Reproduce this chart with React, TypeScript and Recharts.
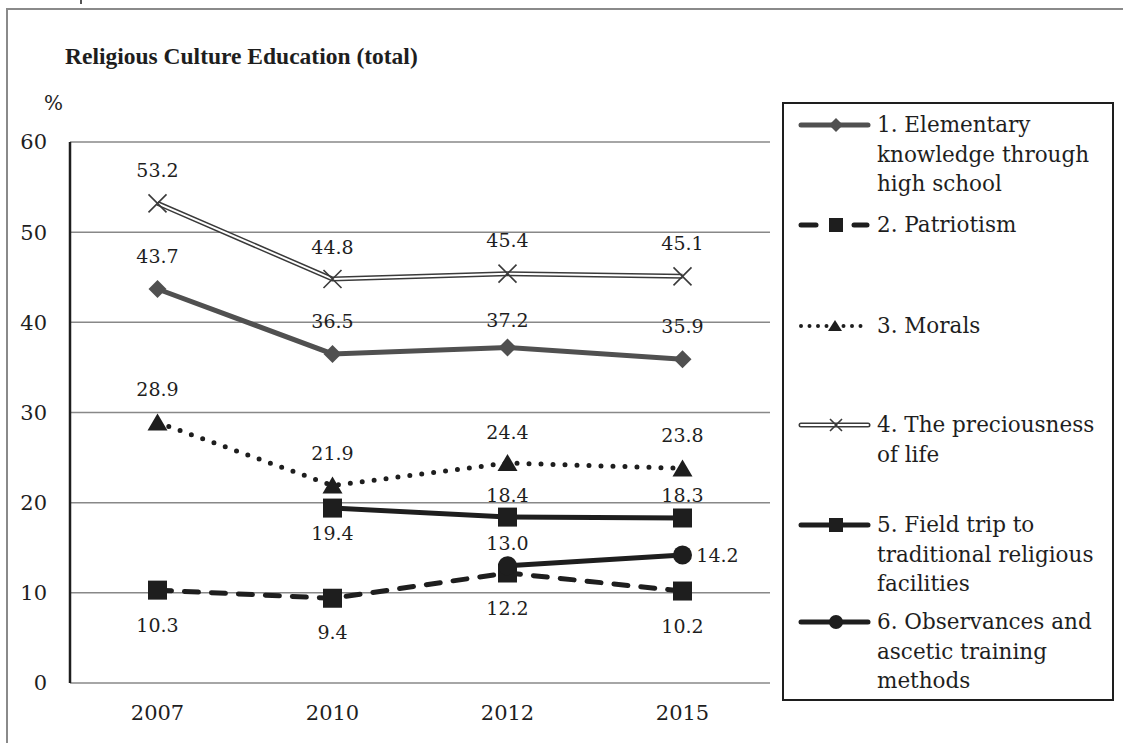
import { LineChart, Line, XAxis, YAxis, CartesianGrid, Legend, LabelList } from 'recharts'

/* ---------- data ---------- */

const YEARS = ['2007', '2010', '2012', '2015']
const ELEMENTARY = [43.7, 36.5, 37.2, 35.9]
const PATRIOTISM = [10.3, 9.4, 12.2, 10.2]
const MORALS = [28.9, 21.9, 24.4, 23.8]
const LIFE = [53.2, 44.8, 45.4, 45.1]
const FIELD_TRIP = [null, 19.4, 18.4, 18.3]
const OBSERVANCES = [null, null, 13.0, 14.2]
const Y_TICKS = [0, 10, 20, 30, 40, 50, 60]
const BOUNDARY_TICKS = [0, 1, 2, 3, 4]

const LEGEND_TEXT = [
  ['1. Elementary', 'knowledge through', 'high school'],
  ['2. Patriotism'],
  ['3. Morals'],
  ['4. The preciousness', 'of life'],
  ['5. Field trip to', 'traditional religious', 'facilities'],
  ['6. Observances and', 'ascetic training', 'methods'],
]

const rows = YEARS.map((year, i) => ({
  year,
  elementary: ELEMENTARY[i],
  patriotism: PATRIOTISM[i],
  morals: MORALS[i],
  life: LIFE[i],
  fieldTrip: FIELD_TRIP[i],
  observances: OBSERVANCES[i],
}))

/* ---------- styles ---------- */

const SERIF = '"DejaVu Serif", serif'
const INK = '#1e1e1e'
const GRAY = '#505050'
const GRID = '#888888'
const AXIS_TICK = { fill: INK, fontSize: 21, fontFamily: SERIF }

// label offsets (px) relative to each point
const DY = {
  elementary: [-33, -33, -28, -33],
  patriotism: [35, 34, 35, 35],
  morals: [-33, -33, -31, -33],
  life: [-33, -32, -34, -33],
  fieldTrip: [0, 25, -22, -23],
  observances: [0, 0, -23, 0],
}
const DX = { observances: [0, 0, 0, 35] }

/* ---------- markers ---------- */

type Dot = { cx?: number | null; cy?: number | null; index?: number }

const diamond = (cx: number, cy: number, r: number, fill: string) =>
  <polygon points={`${cx},${cy - r} ${cx + r},${cy} ${cx},${cy + r} ${cx - r},${cy}`} fill={fill} />
const square = (cx: number, cy: number, r: number, fill: string) =>
  <rect x={cx - r} y={cy - r} width={r * 2} height={r * 2} fill={fill} />
const triangle = (cx: number, cy: number, r: number, fill: string) =>
  <polygon points={`${cx},${cy - r} ${cx + r + 1},${cy + r - 1} ${cx - r - 1},${cy + r - 1}`} fill={fill} />
const cross = (cx: number, cy: number, r: number, stroke: string) =>
  <path d={`M${cx - r},${cy - r}L${cx + r},${cy + r}M${cx - r},${cy + r}L${cx + r},${cy - r}`} stroke={stroke} strokeWidth={1.6} fill="none" />
const circle = (cx: number, cy: number, r: number, fill: string) =>
  <circle cx={cx} cy={cy} r={r} fill={fill} />

const marker = (draw: (cx: number, cy: number) => React.ReactElement) => (p: Dot) => {
  if (p.cx == null || p.cy == null) return <g key={`n${p.index}`} />
  return <g key={`d${p.index}`}>{draw(p.cx, p.cy)}</g>
}

const DiamondDot = marker((x, y) => diamond(x, y, 9, GRAY))
const PatriotDot = marker((x, y) => square(x, y, 9.5, INK))
const TriangleDot = marker((x, y) => triangle(x, y, 9, INK))
const CrossDot = marker((x, y) => cross(x, y, 9, '#3a3a3a'))
const FieldDot = marker((x, y) => square(x, y, 9.5, INK))
const CircleDot = marker((x, y) => circle(x, y, 9.5, INK))

/* ---------- labels ---------- */

const labelFor = (key: keyof typeof DY) => (p: any) => {
  const vb = p.viewBox ?? p
  const x = vb.x ?? p.x
  const y = vb.y ?? p.y
  const i = p.index ?? 0
  if (p.value == null || x == null || y == null) return null
  const dx = (DX as any)[key]?.[i] ?? 0
  return (
    <text x={x + dx} y={y + DY[key][i]} textAnchor="middle" dominantBaseline="central"
      fontSize={19} fontFamily={SERIF} fill={INK}>
      {Number(p.value).toFixed(1)}
    </text>
  )
}

/* ---------- legend ---------- */

const LEGEND_TOP = [21, 121, 222, 321, 421, 518]

function LegendSymbol({ i }: { i: number }) {
  const y = 15
  const line = (stroke: string, w: number, dash?: string) =>
    <line x1={3} x2={70} y1={y} y2={y} stroke={stroke} strokeWidth={w} strokeDasharray={dash} strokeLinecap="round" />
  return (
    <svg width={74} height={30} style={{ display: 'block' }}>
      {i === 0 && <>{line(GRAY, 5)}{diamond(38, y, 7, GRAY)}</>}
      {i === 1 && <>
        <line x1={3} x2={18} y1={y} y2={y} stroke={INK} strokeWidth={5} strokeLinecap="round" />
        <line x1={56} x2={69} y1={y} y2={y} stroke={INK} strokeWidth={5} strokeLinecap="round" />
        {square(38, y, 7, INK)}
      </>}
      {i === 2 && <>{line(INK, 4, '0 8.5')}{triangle(37, y, 6, INK)}</>}
      {i === 3 && <>{line('#3a3a3a', 5)}{line('#fff', 2)}{cross(38, y, 6, '#3a3a3a')}</>}
      {i === 4 && <>{line(INK, 5)}{square(38, y, 7, INK)}</>}
      {i === 5 && <>{line(INK, 5)}{circle(38, y, 7, INK)}</>}
    </svg>
  )
}

function LegendBox() {
  return (
    <div style={{ position: 'relative', width: '100%', height: '100%' }}>
      {LEGEND_TEXT.map((lines, i) => (
        <div key={i} style={{ position: 'absolute', left: 14, top: LEGEND_TOP[i] - 15 }}>
          <div style={{ position: 'absolute', left: 0, top: 0 }}><LegendSymbol i={i} /></div>
          <div style={{ position: 'absolute', left: 79, top: 0, fontFamily: SERIF, fontSize: 21.5, lineHeight: '29.5px', color: INK, whiteSpace: 'nowrap' }}>
            {lines.map((t, k) => <div key={k}>{t}</div>)}
          </div>
        </div>
      ))}
    </div>
  )
}

/* ---------- chart ---------- */

export default function App() {
  return (
    <div style={{ position: 'absolute', left: 0, top: 0, width: 1123, height: 743, overflow: 'hidden', background: '#fff' }}>
      <div style={{ position: 'absolute', left: 6, top: 8, width: 1200, height: 800, borderLeft: '2px solid #8a8a8a', borderTop: '2px solid #8a8a8a' }} />
      <div style={{ position: 'absolute', left: 80, top: 0, width: 2, height: 4, background: '#555' }} />
      <div style={{ position: 'absolute', left: 65, top: 43, fontFamily: '"Liberation Serif", serif', fontWeight: 'bold', fontSize: 23.5, color: INK, whiteSpace: 'nowrap' }}>
        Religious Culture Education (total)
      </div>
      <div style={{ position: 'absolute', left: 44, top: 91, fontFamily: SERIF, fontSize: 20, color: INK }}>%</div>

      <div style={{ position: 'absolute', left: 0, top: 0 }}>
        <LineChart width={1123} height={743} data={rows} margin={{ top: 142, right: 353, bottom: 20, left: 10 }}>
          <CartesianGrid horizontal vertical={false} stroke={GRID} strokeWidth={1.5} />
          <XAxis xAxisId="bounds" type="number" domain={[0, 4]} ticks={BOUNDARY_TICKS} allowDataOverflow
            orientation="bottom" mirror height={0} tick={() => <g />} tickSize={8}
            tickLine={{ stroke: GRID, strokeWidth: 1.5 }} axisLine={{ stroke: GRID, strokeWidth: 2 }} />
          <XAxis dataKey="year" height={40} padding={{ left: 87.5, right: 87.5 }} axisLine={false} tickLine={false}
            tick={AXIS_TICK} tickMargin={16} />
          <YAxis domain={[0, 60]} ticks={Y_TICKS} width={60} tickLine={false} tick={AXIS_TICK} tickMargin={17}
            axisLine={{ stroke: INK, strokeWidth: 2.5 }} />
          <Legend layout="horizontal" align="center" verticalAlign="middle" content={() => <LegendBox />}
            wrapperStyle={{ left: 782, top: 102, width: 332, height: 599, border: `2px solid ${INK}`, boxSizing: 'border-box', background: '#fff' }} />

          <Line dataKey="elementary" stroke={GRAY} strokeWidth={5} dot={DiamondDot} activeDot={false} isAnimationActive={false}>
            <LabelList dataKey="elementary" content={labelFor('elementary')} />
          </Line>
          <Line dataKey="patriotism" stroke={INK} strokeWidth={5} strokeDasharray="14 13" strokeLinecap="round"
            dot={PatriotDot} activeDot={false} isAnimationActive={false}>
            <LabelList dataKey="patriotism" content={labelFor('patriotism')} />
          </Line>
          <Line dataKey="morals" stroke={INK} strokeWidth={5} strokeDasharray="0 12" strokeLinecap="round"
            dot={TriangleDot} activeDot={false} isAnimationActive={false}>
            <LabelList dataKey="morals" content={labelFor('morals')} />
          </Line>
          <Line dataKey="life" stroke="#3a3a3a" strokeWidth={5} dot={false} activeDot={false} isAnimationActive={false} />
          <Line dataKey="life" stroke="#fff" strokeWidth={2} dot={CrossDot} activeDot={false} legendType="none" isAnimationActive={false}>
            <LabelList dataKey="life" content={labelFor('life')} />
          </Line>
          <Line dataKey="fieldTrip" stroke={INK} strokeWidth={5} dot={FieldDot} activeDot={false} isAnimationActive={false}>
            <LabelList dataKey="fieldTrip" content={labelFor('fieldTrip')} />
          </Line>
          <Line dataKey="observances" stroke={INK} strokeWidth={5} dot={CircleDot} activeDot={false} isAnimationActive={false}>
            <LabelList dataKey="observances" content={labelFor('observances')} />
          </Line>
        </LineChart>
      </div>
    </div>
  )
}
